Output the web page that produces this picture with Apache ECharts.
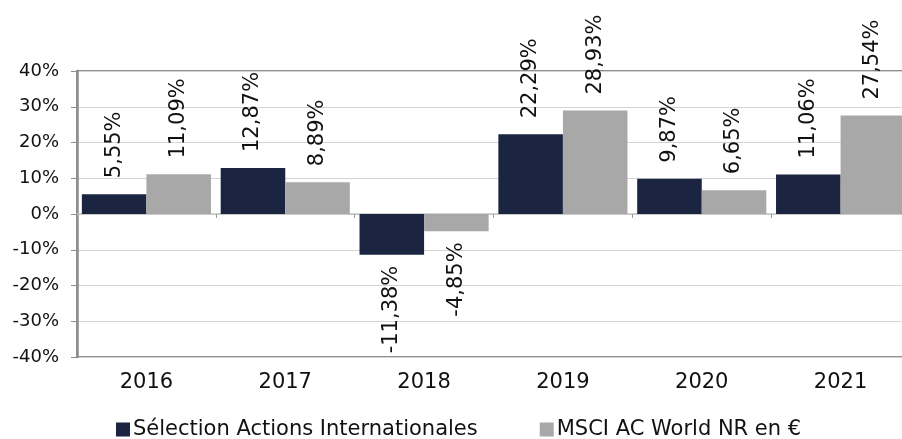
<!DOCTYPE html>
<html>
<head>
<meta charset="utf-8">
<script src="https://cdn.jsdelivr.net/npm/echarts@6/dist/echarts.min.js"></script>
<style>
  html, body { margin: 0; padding: 0; background: #fff; }
  #chart { width: 902px; height: 439px; }
</style>
</head>
<body>
<div id="chart"></div>
<script>
const years = ['2016', '2017', '2018', '2019', '2020', '2021'];
const fundName = 'Sélection Actions Internationales';
const indexName = 'MSCI AC World NR en €';
const fundValues = [5.55, 12.87, -11.38, 22.29, 9.87, 11.06];
const indexValues = [11.09, 8.89, -4.85, 28.93, 6.65, 27.54];
const yTicks = [-40, -30, -20, -10, 0, 10, 20, 30, 40];

const fmt = v => v.toFixed(2).replace('.', ',') + '%';

// negative bars get their label underneath, positive ones on top
function toItems(values) {
  return values.map(v => ({
    value: v,
    label: v < 0
      ? { position: 'bottom', align: 'right', distance: 11 }
      : { position: 'top', align: 'left' }
  }));
}

const barLabel = {
  show: true,
  rotate: 90,
  distance: 16,
  verticalAlign: 'middle',
  fontFamily: 'DejaVu Sans',
  fontSize: 21,
  color: '#111',
  formatter: p => fmt(p.value)
};

const chart = echarts.init(document.getElementById('chart'));
chart.setOption({
  animation: false,
  textStyle: { fontFamily: 'DejaVu Sans' },
  grid: {
    left: 77, top: 71, bottom: 82, right: -8,
    outerBoundsMode: 'none',
    show: true, borderColor: '#8e8e8e', borderWidth: 2
  },
  legend: {
    bottom: -6,
    left: 111,
    itemWidth: 14,
    itemHeight: 14,
    itemGap: 62,
    icon: 'rect',
    textStyle: { fontSize: 21, color: '#111', padding: [0, 0, 0, -2] },
    data: [fundName, indexName]
  },
  xAxis: [
    {
      type: 'category',
      data: years,
      position: 'bottom',
      axisLine: { show: false, onZero: false },
      axisTick: { show: false },
      axisLabel: { fontSize: 21, color: '#111', margin: 15 }
    },
    {
      type: 'category',
      data: years,
      position: 'bottom',
      axisLine: { show: true, onZero: true, lineStyle: { color: '#c4c4c4', width: 1.5 } },
      axisTick: { show: true, length: 4, lineStyle: { color: '#9a9a9a' } },
      axisLabel: { show: false }
    }
  ],
  yAxis: {
    type: 'value',
    min: yTicks[0],
    max: yTicks[yTicks.length - 1],
    interval: 10,
    axisLine: { show: true, lineStyle: { color: '#8e8e8e', width: 2.5 } },
    axisTick: { show: true, length: 6, lineStyle: { color: '#8e8e8e' } },
    axisLabel: { fontSize: 18, color: '#111', margin: 18, formatter: v => v + '%' },
    splitLine: { lineStyle: { color: '#d4d4d4', width: 1 } }
  },
  series: [
    {
      name: fundName,
      type: 'bar',
      xAxisIndex: 0,
      data: toItems(fundValues),
      itemStyle: { color: '#1b2440' },
      barGap: '0%',
      barCategoryGap: '7%',
      label: barLabel
    },
    {
      name: indexName,
      type: 'bar',
      xAxisIndex: 0,
      data: toItems(indexValues),
      itemStyle: { color: '#a8a8a8' },
      barGap: '0%',
      barCategoryGap: '7%',
      label: barLabel
    }
  ]
});
</script>
</body>
</html>
